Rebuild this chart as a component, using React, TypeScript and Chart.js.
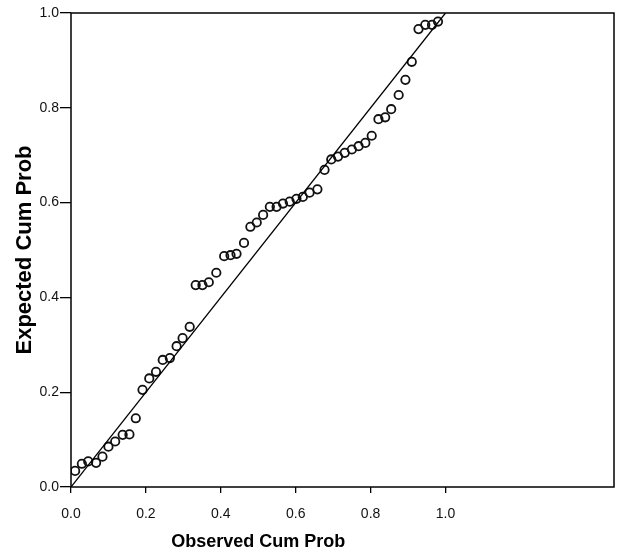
import React, { useEffect, useRef } from "react";
import { Chart, registerables } from "chart.js";

Chart.register(...registerables);

// ---- data ----
const observedCumProb = [
  0.011, 0.029, 0.046, 0.067, 0.084, 0.1, 0.118, 0.138, 0.156, 0.173,
  0.191, 0.209, 0.227, 0.245, 0.264, 0.282, 0.298, 0.317, 0.333, 0.351,
  0.368, 0.388, 0.409, 0.426, 0.442, 0.462, 0.479, 0.496, 0.513, 0.531,
  0.549, 0.566, 0.584, 0.602, 0.619, 0.637, 0.658, 0.677, 0.695, 0.713,
  0.731, 0.75, 0.768, 0.786, 0.803, 0.821, 0.839, 0.855, 0.875, 0.893,
  0.91, 0.928, 0.946, 0.964, 0.98,
];
const expectedCumProb = [
  0.034, 0.049, 0.054, 0.051, 0.064, 0.085, 0.096, 0.11, 0.111, 0.145,
  0.205, 0.229, 0.243, 0.268, 0.272, 0.297, 0.314, 0.338, 0.426, 0.426,
  0.432, 0.452, 0.487, 0.489, 0.492, 0.515, 0.549, 0.558, 0.574, 0.591,
  0.591, 0.598, 0.602, 0.608, 0.612, 0.621, 0.628, 0.669, 0.691, 0.697,
  0.705, 0.712, 0.719, 0.726, 0.741, 0.776, 0.78, 0.797, 0.827, 0.859,
  0.897, 0.966, 0.975, 0.975, 0.982,
];
const refLineX = [0, 1];
const refLineY = [0, 1];
const xTickValues = [0, 0.2, 0.4, 0.6, 0.8, 1.0];
const yTickValues = [0, 0.2, 0.4, 0.6, 0.8, 1.0];
const xMin = 0;
const xMax = 1.45;
const yMin = 0;
const yMax = 1;
const xAxisTitle = "Observed Cum Prob";
const yAxisTitle = "Expected Cum Prob";

const FONT = "'Liberation Sans', Arial, Helvetica, sans-serif";

const framePlugin = {
  id: "frameAndTitles",
  afterDatasetsDraw(chart: any) {
    const { ctx, chartArea: a, scales } = chart;
    ctx.save();
    ctx.strokeStyle = "#000";
    ctx.lineWidth = 1.5;
    ctx.strokeRect(a.left, a.top, a.right - a.left, a.bottom - a.top);

    ctx.fillStyle = "#000";
    ctx.textAlign = "center";
    ctx.textBaseline = "middle";
    ctx.font = `bold 18px ${FONT}`;
    const cx = (scales.x.getPixelForValue(0) + scales.x.getPixelForValue(1)) / 2;
    ctx.fillText(xAxisTitle, cx, a.bottom + 55);

    ctx.font = `bold 22px ${FONT}`;
    ctx.translate(a.left - 46, (a.top + a.bottom) / 2);
    ctx.rotate(-Math.PI / 2);
    ctx.fillText(yAxisTitle, 0, 0);
    ctx.restore();
  },
};

export default function App() {
  const ref = useRef<HTMLCanvasElement | null>(null);

  useEffect(() => {
    document.body.style.margin = "0";
    const canvas = ref.current;
    if (!canvas) return;
    const points = observedCumProb.map((x, i) => ({ x, y: expectedCumProb[i] }));
    const line = refLineX.map((x, i) => ({ x, y: refLineY[i] }));

    const chart = new Chart(canvas, {
      type: "scatter",
      data: {
        datasets: [
          {
            data: line,
            showLine: true,
            borderColor: "#000",
            borderWidth: 1.3,
            pointRadius: 0,
            fill: false,
          },
          {
            data: points,
            pointStyle: "circle",
            pointRadius: 4.2,
            pointBorderWidth: 1.8,
            borderColor: "#111",
            backgroundColor: "rgba(0,0,0,0)",
            pointBackgroundColor: "rgba(0,0,0,0)",
            pointBorderColor: "#111",
          } as any,
        ],
      },
      options: {
        responsive: false,
        animation: false,
        devicePixelRatio: 1,
        layout: { padding: { left: 21, right: 9, top: 13, bottom: 30 } },
        plugins: {
          legend: { display: false },
          tooltip: { enabled: false },
        },
        scales: {
          x: {
            type: "linear",
            min: xMin,
            max: xMax,
            afterBuildTicks: (s: any) => {
              s.ticks = xTickValues.map((v) => ({ value: v }));
            },
            afterFit: (s: any) => {
              s.height = 40;
            },
            border: { display: false },
            grid: {
              drawOnChartArea: false,
              drawTicks: true,
              tickLength: 6,
              color: "#000",
              lineWidth: 1.3,
            },
            ticks: {
              color: "#111",
              padding: 13,
              maxRotation: 0,
              font: { family: FONT, size: 14 },
              callback: (v: any) => Number(v).toFixed(1),
            },
          },
          y: {
            type: "linear",
            min: yMin,
            max: yMax,
            afterBuildTicks: (s: any) => {
              s.ticks = yTickValues.map((v) => ({ value: v }));
            },
            afterFit: (s: any) => {
              s.width = 50;
            },
            border: { display: false },
            grid: {
              drawOnChartArea: false,
              drawTicks: true,
              tickLength: 11,
              color: "#000",
              lineWidth: 1.3,
            },
            ticks: {
              color: "#111",
              padding: 1,
              font: { family: FONT, size: 14 },
              callback: (v: any) => Number(v).toFixed(1),
            },
          },
        },
      },
      plugins: [framePlugin],
    });
    return () => chart.destroy();
  }, []);

  return (
    <div style={{ width: 623, height: 557, background: "#fff" }}>
      <canvas ref={ref} width={623} height={557} style={{ display: "block", width: 623, height: 557 }} />
    </div>
  );
}
